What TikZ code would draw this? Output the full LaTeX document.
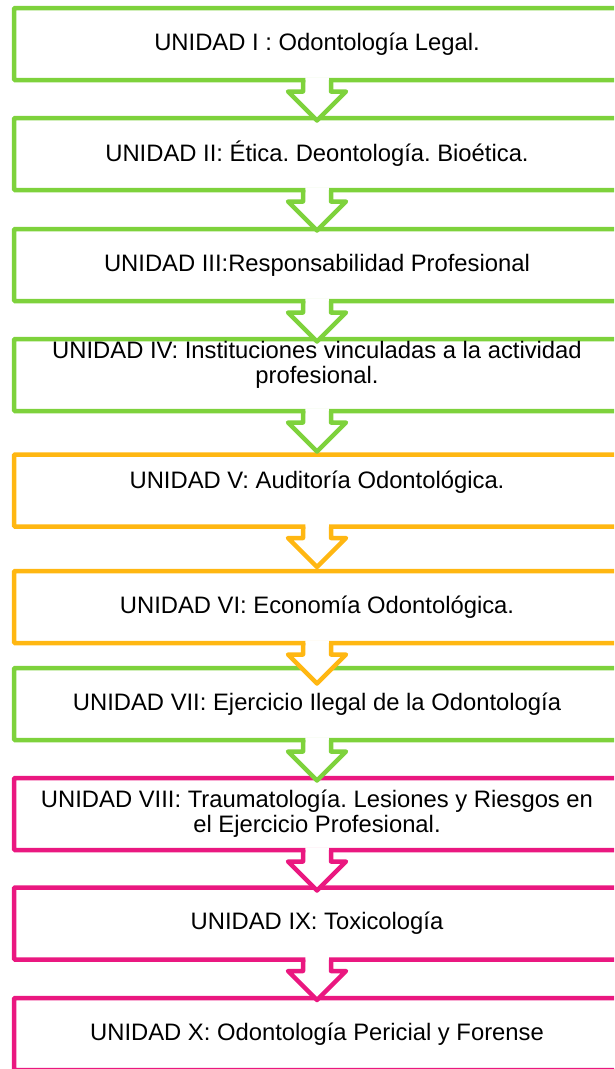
\documentclass[tikz,border=0pt]{standalone}
\usepackage{fontspec}
\setmainfont{Liberation Sans}
\usetikzlibrary{positioning}
\definecolor{unitgreen}{RGB}{126,210,60}
\definecolor{unitorange}{RGB}{255,183,18}
\definecolor{unitpink}{RGB}{234,24,128}
\frenchspacing

% block arrow hanging under a unit box
\newcommand{\unitarrow}[2]{%
  \begin{scope}[shift={(#1.south)}]
    \fill[white] (-11.75,-2.6) -- (-11.75,11.5) -- (-29,11.5) -- (0,40.5) -- (29,11.5) -- (11.75,11.5) -- (11.75,-2.6) -- cycle;
    \draw[flow, draw=#2] (-14,0) -- (-14,11.5) -- (-29,11.5) -- (0,40.5) -- (29,11.5) -- (14,11.5) -- (14,0);
  \end{scope}}

\begin{document}
\begin{tikzpicture}[x=1pt, y=-1pt,
    unit/.style={rectangle, draw, line width=4.5pt, rounded corners=1pt, minimum width=606pt, minimum height=72pt,
                 inner sep=1pt, outer sep=0pt, align=center, font=\fontsize{23.8}{25}\selectfont},
    flow/.style={line width=4.5pt, line join=round}]
    \useasboundingbox (0,0) rectangle (614,1069);
    \clip (0,0) rectangle (614,1069);

    % Units I-IV
    \node[unit, draw=unitgreen] (u1) at (317,44) {UNIDAD I : Odontología Legal.};
    \node[unit, draw=unitgreen, below=38pt of u1] (u2) {UNIDAD II: Ética. Deontología. Bioética.};
    \node[unit, draw=unitgreen, below=39pt of u2] (u3) {UNIDAD III:Responsabilidad Profesional};
    \node[unit, draw=unitgreen, below=38pt of u3] (u4) {UNIDAD IV: Instituciones vinculadas a la actividad\\ profesional.\\ \mbox{}};

    % Units V-VI
    \node[unit, draw=unitorange, below=43.5pt of u4] (u5) {UNIDAD V: Auditoría Odontológica.\\[-3pt] \mbox{}};
    \node[unit, draw=unitorange, below=44.5pt of u5] (u6) {UNIDAD VI: Economía Odontológica.};

    % Unit VII
    \node[unit, draw=unitgreen, below=25pt of u6] (u7) {UNIDAD VII: Ejercicio Ilegal de la Odontología};

    % Units VIII-X
    \node[unit, draw=unitpink, below=38pt of u7] (u8) {UNIDAD VIII: Traumatología. Lesiones y Riesgos en\\ el Ejercicio Profesional.};
    \node[unit, draw=unitpink, below=37.5pt of u8] (u9) {UNIDAD IX: Toxicología};
    \node[unit, draw=unitpink, below=38.5pt of u9] (u10) {UNIDAD X: Odontología Pericial y Forense};

    % Arrows between units
    \unitarrow{u1}{unitgreen}
    \unitarrow{u2}{unitgreen}
    \unitarrow{u3}{unitgreen}
    \unitarrow{u4}{unitgreen}
    \unitarrow{u5}{unitorange}
    \unitarrow{u6}{unitorange}
    \unitarrow{u7}{unitgreen}
    \unitarrow{u8}{unitpink}
    \unitarrow{u9}{unitpink}
\end{tikzpicture}
\end{document}
